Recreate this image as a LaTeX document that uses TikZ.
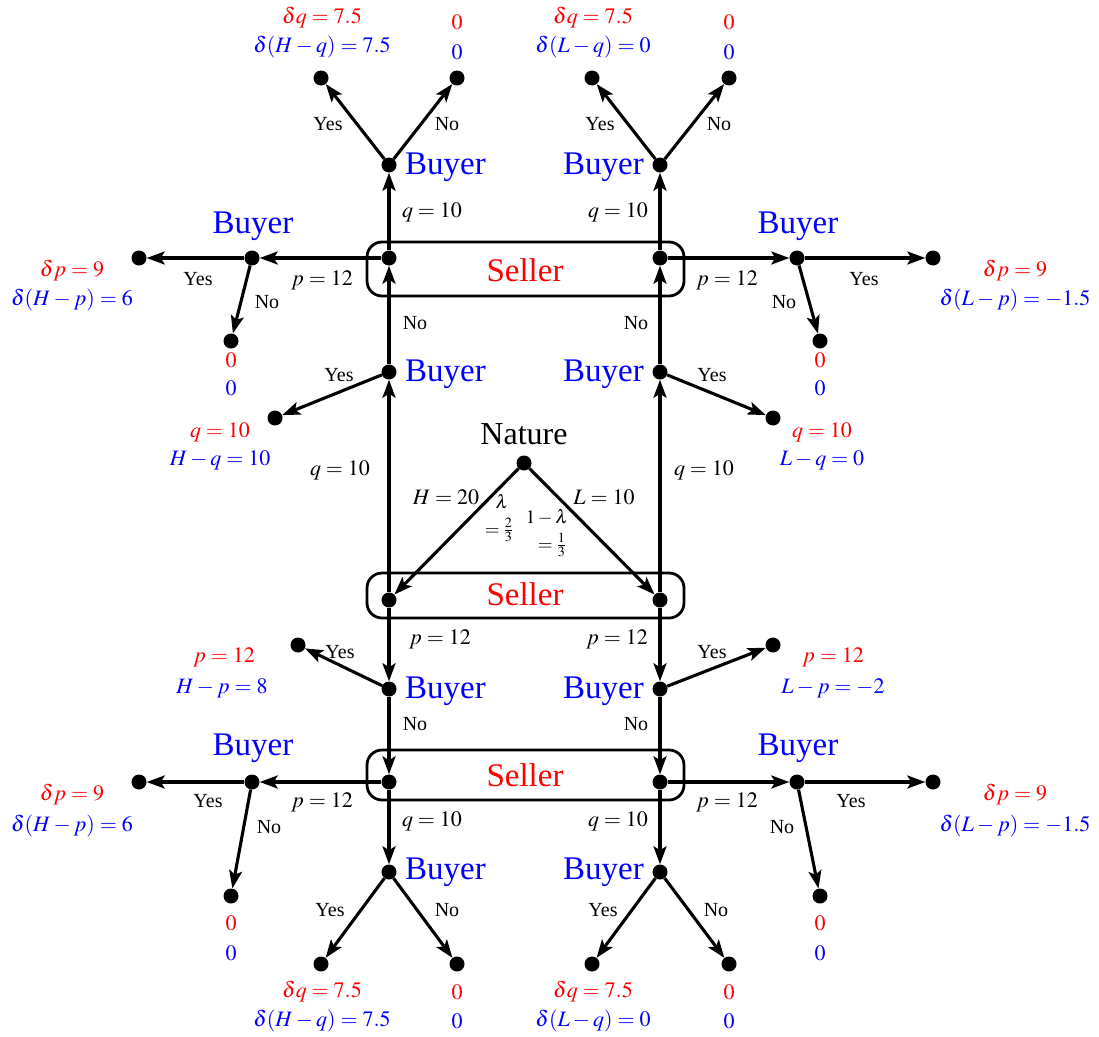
\documentclass[tikz,border=0pt]{standalone}
\usepackage{mathptmx}
\usepackage[no-math]{fontspec}
\setmainfont{Liberation Serif}
\usetikzlibrary{arrows.meta}
\begin{document}
\begin{tikzpicture}[x=1pt,y=-1pt,
  dot/.style={circle, fill=black, inner sep=0pt, minimum size=15pt},
  edg/.style={line width=3.1pt, -{Stealth[length=18pt,width=13pt,inset=4pt]}},
  lbl/.style={font=\fontsize{20}{23}\selectfont, inner sep=0pt},
  mlbl/.style={font=\fontsize{22}{25}\selectfont, inner sep=0pt},
  pr/.style={font=\fontsize{22}{25}\selectfont, inner sep=0pt, text=red},
  pb/.style={font=\fontsize{22}{25}\selectfont, inner sep=0pt, text=blue},
  sml/.style={font=\fontsize{19}{21}\selectfont, inner sep=0pt},
  buyer/.style={font=\fontsize{33}{37}\selectfont, inner sep=0pt, text=blue},
  seller/.style={font=\fontsize{33}{37}\selectfont, inner sep=0pt, text=red},
  infobox/.style={draw, line width=2.8pt, rounded corners=15pt}]
\useasboundingbox (0,0) rectangle (1099,1036);

% info sets
\draw[infobox] (367,242) rectangle (684,296);
\draw[infobox] (367,573) rectangle (684,618);
\draw[infobox] (367,750) rectangle (684,800);
\node[seller] (sell1) at (525,270) {Seller};
\node[seller] (sell2) at (525,594) {Seller};
\node[seller] (sell3) at (525,775) {Seller};

% nodes
\node[dot] (N) at (524,463) {};
\node[dot] (S1L) at (389,600) {};
\node[dot] (S1R) at (660,600) {};
\node[dot] (BL1) at (389,372) {};
\node[dot] (BR1) at (660,372) {};
\node[dot] (TL1) at (275,418) {};
\node[dot] (TR1) at (773,418) {};
\node[dot] (S2L) at (389,258) {};
\node[dot] (S2R) at (660,258) {};
\node[dot] (BL2) at (389,165) {};
\node[dot] (BR2) at (660,165) {};
\node[dot] (TL2y) at (321,78) {};
\node[dot] (TL2n) at (457,78) {};
\node[dot] (TR2y) at (592,78) {};
\node[dot] (TR2n) at (729,78) {};
\node[dot] (BLs) at (252,258) {};
\node[dot] (BRs) at (797,258) {};
\node[dot] (TLsy) at (139,258) {};
\node[dot] (TLsn) at (231,341) {};
\node[dot] (TRsy) at (933,258) {};
\node[dot] (TRsn) at (820,341) {};
\node[dot] (BL3) at (389,689) {};
\node[dot] (BR3) at (660,689) {};
\node[dot] (TL3) at (298,645) {};
\node[dot] (TR3) at (773,645) {};
\node[dot] (S3L) at (389,782) {};
\node[dot] (S3R) at (660,782) {};
\node[dot] (BLb) at (252,782) {};
\node[dot] (BRb) at (797,782) {};
\node[dot] (TLby) at (139,782) {};
\node[dot] (TLbn) at (231,896) {};
\node[dot] (TRby) at (933,782) {};
\node[dot] (TRbn) at (820,896) {};
\node[dot] (BL4) at (389,872) {};
\node[dot] (BR4) at (660,872) {};
\node[dot] (TL4y) at (321,964) {};
\node[dot] (TL4n) at (457,964) {};
\node[dot] (TR4y) at (592,964) {};
\node[dot] (TR4n) at (729,964) {};

% player labels
\node[font=\fontsize{32}{36}\selectfont, inner sep=0pt] (natl) at (524,434) {Nature};
\node[buyer, anchor=west] (bl1l) at (405,374) {Buyer};
\node[buyer, anchor=east] (br1l) at (644,374) {Buyer};
\node[buyer, anchor=west] (bl2l) at (405,167) {Buyer};
\node[buyer, anchor=east] (br2l) at (644,167) {Buyer};
\node[buyer] (blsl) at (253,226) {Buyer};
\node[buyer] (brsl) at (798,226) {Buyer};
\node[buyer, anchor=west] (bl3l) at (405,691) {Buyer};
\node[buyer, anchor=east] (br3l) at (644,691) {Buyer};
\node[buyer] (blbl) at (253,748) {Buyer};
\node[buyer] (brbl) at (798,748) {Buyer};
\node[buyer, anchor=west] (bl4l) at (405,872) {Buyer};
\node[buyer, anchor=east] (br4l) at (644,872) {Buyer};

% edges
\draw[edg] (N) -- (S1L);
\draw[edg] (N) -- (S1R);
\draw[edg] (S1L) -- (BL1);
\draw[edg] (S1R) -- (BR1);
\draw[edg] (BL1) -- (TL1);
\draw[edg] (BR1) -- (TR1);
\draw[edg] (BL1) -- (S2L);
\draw[edg] (BR1) -- (S2R);
\draw[edg] (S2L) -- (BL2);
\draw[edg] (S2R) -- (BR2);
\draw[edg] (BL2) -- (TL2y);
\draw[edg] (BL2) -- (TL2n);
\draw[edg] (BR2) -- (TR2y);
\draw[edg] (BR2) -- (TR2n);
\draw[edg] (S2L) -- (BLs);
\draw[edg] (S2R) -- (BRs);
\draw[edg] (BLs) -- (TLsy);
\draw[edg] (BLs) -- (TLsn);
\draw[edg] (BRs) -- (TRsy);
\draw[edg] (BRs) -- (TRsn);
\draw[edg] (S1L) -- (BL3);
\draw[edg] (S1R) -- (BR3);
\draw[edg] (BL3) -- (TL3);
\draw[edg] (BR3) -- (TR3);
\draw[edg] (BL3) -- (S3L);
\draw[edg] (BR3) -- (S3R);
\draw[edg] (S3L) -- (BLb);
\draw[edg] (S3R) -- (BRb);
\draw[edg] (BLb) -- (TLby);
\draw[edg] (BLb) -- (TLbn);
\draw[edg] (BRb) -- (TRby);
\draw[edg] (BRb) -- (TRbn);
\draw[edg] (S3L) -- (BL4);
\draw[edg] (S3R) -- (BR4);
\draw[edg] (BL4) -- (TL4y);
\draw[edg] (BL4) -- (TL4n);
\draw[edg] (BR4) -- (TR4y);
\draw[edg] (BR4) -- (TR4n);

% edge labels
\node[mlbl] (e1) at (446,497) {$H=20$};
\node[mlbl] (e2) at (604,497) {$L=10$};
\node[sml] (e3) at (502,502) {$\lambda$};
\node[sml] (e4) at (499,530) {$=\frac{2}{3}$};
\node[sml] (e5) at (547,517) {$1-\lambda$};
\node[sml] (e6) at (552,545) {$=\frac{1}{3}$};
\node[mlbl] (e7) at (340,470) {$q=10$};
\node[mlbl] (e8) at (704,470) {$q=10$};
\node[lbl] (e9) at (415,323) {No};
\node[lbl] (e10) at (636,323) {No};
\node[lbl] (e11) at (339,375) {Yes};
\node[lbl] (e12) at (712,375) {Yes};
\node[mlbl] (e13) at (432,212) {$q=10$};
\node[mlbl] (e14) at (618,212) {$q=10$};
\node[mlbl] (e15) at (322,280) {$p=12$};
\node[mlbl] (e16) at (727,280) {$p=12$};
\node[lbl] (e17) at (198,279) {Yes};
\node[lbl] (e18) at (864,279) {Yes};
\node[lbl] (e19) at (267,302) {No};
\node[lbl] (e20) at (784,302) {No};
\node[lbl] (e21) at (328,124) {Yes};
\node[lbl] (e22) at (600,124) {Yes};
\node[lbl] (e23) at (447,124) {No};
\node[lbl] (e24) at (719,124) {No};
\node[mlbl] (e25) at (440,639) {$p=12$};
\node[mlbl] (e26) at (617,639) {$p=12$};
\node[lbl] (e27) at (340,652) {Yes};
\node[lbl] (e28) at (712,652) {Yes};
\node[lbl] (e29) at (415,724) {No};
\node[lbl] (e30) at (636,724) {No};
\node[mlbl] (e31) at (322,802) {$p=12$};
\node[mlbl] (e32) at (727,802) {$p=12$};
\node[lbl] (e33) at (208,801) {Yes};
\node[lbl] (e34) at (851,801) {Yes};
\node[lbl] (e35) at (269,827) {No};
\node[lbl] (e36) at (782,827) {No};
\node[mlbl] (e37) at (432,821) {$q=10$};
\node[mlbl] (e38) at (618,821) {$q=10$};
\node[lbl] (e39) at (330,910) {Yes};
\node[lbl] (e40) at (603,910) {Yes};
\node[lbl] (e41) at (447,910) {No};
\node[lbl] (e42) at (716,910) {No};

% payoffs
\node[pr] (p1a) at (322,18) {$\delta q=7.5$};
\node[pb] (p1b) at (322,47) {$\delta(H-q)=7.5$};
\node[pr] (p2a) at (457,22) {$0$};
\node[pb] (p2b) at (457,52) {$0$};
\node[pr] (p3a) at (593,18) {$\delta q=7.5$};
\node[pb] (p3b) at (593,47) {$\delta(L-q)=0$};
\node[pr] (p4a) at (729,22) {$0$};
\node[pb] (p4b) at (729,52) {$0$};
\node[pr] (p5a) at (72,271) {$\delta p=9$};
\node[pb] (p5b) at (72,300) {$\delta(H-p)=6$};
\node[pr] (p6a) at (231,360) {$0$};
\node[pb] (p6b) at (231,388) {$0$};
\node[pr] (p7a) at (1015,271) {$\delta p=9$};
\node[pb] (p7b) at (1015,300) {$\delta(L-p)=-1.5$};
\node[pr] (p8a) at (820,360) {$0$};
\node[pb] (p8b) at (820,388) {$0$};
\node[pr] (p9a) at (220,432) {$q=10$};
\node[pb] (p9b) at (220,460) {$H-q=10$};
\node[pr] (p10a) at (822,432) {$q=10$};
\node[pb] (p10b) at (822,460) {$L-q=0$};
\node[pr] (p11a) at (224,657) {$p=12$};
\node[pb] (p11b) at (222,688) {$H-p=8$};
\node[pr] (p12a) at (833,657) {$p=12$};
\node[pb] (p12b) at (833,688) {$L-p=-2$};
\node[pr] (p13a) at (72,795) {$\delta p=9$};
\node[pb] (p13b) at (72,826) {$\delta(H-p)=6$};
\node[pr] (p14a) at (231,923) {$0$};
\node[pb] (p14b) at (231,953) {$0$};
\node[pr] (p15a) at (1015,795) {$\delta p=9$};
\node[pb] (p15b) at (1015,826) {$\delta(L-p)=-1.5$};
\node[pr] (p16a) at (820,923) {$0$};
\node[pb] (p16b) at (820,953) {$0$};
\node[pr] (p17a) at (322,992) {$\delta q=7.5$};
\node[pb] (p17b) at (322,1021) {$\delta(H-q)=7.5$};
\node[pr] (p18a) at (457,992) {$0$};
\node[pb] (p18b) at (457,1021) {$0$};
\node[pr] (p19a) at (593,992) {$\delta q=7.5$};
\node[pb] (p19b) at (593,1021) {$\delta(L-q)=0$};
\node[pr] (p20a) at (729,992) {$0$};
\node[pb] (p20b) at (729,1021) {$0$};
\end{tikzpicture}
\end{document}
